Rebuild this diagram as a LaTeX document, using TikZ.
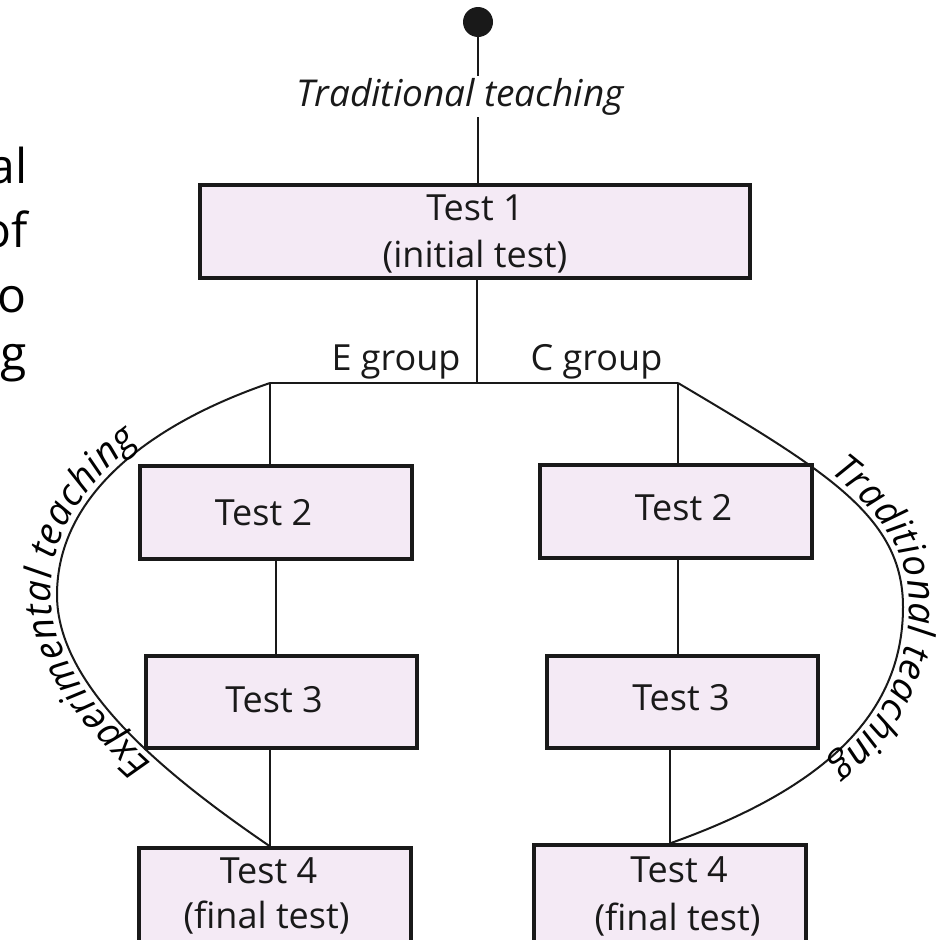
\documentclass[tikz,border=0pt]{standalone}
\usepackage{fontspec}
\setmainfont{Open Sans}
\usetikzlibrary{decorations.text}
\definecolor{boxfill}{RGB}{244,234,245}
\definecolor{ink}{RGB}{25,25,25}
\newcommand{\curvefont}{\fontsize{38}{46}\selectfont\itshape}
\begin{document}
\begin{tikzpicture}[x=1pt,y=-1pt,
  box/.style={draw=ink, line width=3.3pt, fill=boxfill, inner sep=0pt},
  conn/.style={draw=ink, line width=2pt},
  lbl/.style={font=\fontsize{36}{43}\selectfont, inner sep=0pt, text=ink, anchor=base},
  ital/.style={font=\fontsize{37}{44}\selectfont\itshape, inner sep=2pt, text=ink, anchor=base, fill=white},
  frag/.style={font=\fontsize{48}{58}\selectfont, inner sep=0pt, text=black, anchor=base east}]
\useasboundingbox (0,0) rectangle (943,940);
\clip (0,0) rectangle (943,940);

% fragments of neighbouring text
\node[frag] (fa) at (28,183) {al};
\node[frag] (fb) at (28,247) {of};
\node[frag] (fc) at (27,312) {o};
\node[frag] (fd) at (27,370) {g};

% start dot
\node[circle, fill=ink, minimum size=30pt, inner sep=0pt] (dot) at (478,22) {};

% boxes
\node[box, minimum width=550pt, minimum height=93pt] (t1) at (475,231.5) {};
\node[box, minimum width=272pt, minimum height=93pt] (t2l) at (276,512.5) {};
\node[box, minimum width=272pt, minimum height=93pt] (t2r) at (676,511.5) {};
\node[box, minimum width=271pt, minimum height=92pt] (t3l) at (281.5,702) {};
\node[box, minimum width=271pt, minimum height=92pt] (t3r) at (682.5,702) {};
\node[box, minimum width=272pt, minimum height=100pt] (t4l) at (275,898) {};
\node[box, minimum width=272pt, minimum height=100pt] (t4r) at (670,895) {};

% junctions
\coordinate (jl) at (270,383);
\coordinate (jm) at (477,383);
\coordinate (jr) at (678,383);

% connectors
\draw[conn] (dot) -- (dot |- t1.north);
\draw[conn] (t1.south -| jm) -- (jm);
\draw[conn] (jl) -- (jr);
\draw[conn] (jl) -- (jl |- t2l.north);
\draw[conn] (jr) -- (jr |- t2r.north);
\draw[conn] (t2l.south) -- (t2l.south |- t3l.north);
\draw[conn] (t2r.south -| jr) -- (jr |- t3r.north);
\draw[conn] (t3l.south -| jl) -- (t4l.north -| jl);
\draw[conn] (t3r.south -| t4r.north) -- (t4r.north);

% curved branches with text
\draw[conn, postaction={decorate, decoration={text along path, text align=center, raise=6pt,
   text={|\curvefont|Experimental teaching}}}]
  (t4l.north -| jl) .. controls (161,772) and (57,685) .. (57,595)
  .. controls (57,495) and (150,424) .. (jl);
\draw[conn, postaction={decorate, decoration={text along path, text align=center, raise=6pt,
   text={|\curvefont|Traditional teaching}}}]
  (jr) .. controls (828,472) and (903,517) .. (903,607)
  .. controls (903,717) and (820,790) .. (t4r.north);

% labels
\node[ital] (tt) at (460,106) {Traditional teaching};
\node[lbl] (eg) at (396,370) {E group};
\node[lbl] (cg) at (596.5,370) {C group};

\node[lbl] (t1a) at (475,220) {Test 1};
\node[lbl] (t1b) at (475,267) {(initial test)};
\node[lbl] (t2la) at (263.5,525) {Test 2};
\node[lbl] (t2ra) at (683.5,520) {Test 2};
\node[lbl] (t3la) at (274,712) {Test 3};
\node[lbl] (t3ra) at (681,710) {Test 3};
\node[lbl] (t4la) at (268.5,883) {Test 4};
\node[lbl] (t4lb) at (266.5,928) {(final test)};
\node[lbl] (t4ra) at (679,882) {Test 4};
\node[lbl] (t4rb) at (677.5,930) {(final test)};
\end{tikzpicture}
\end{document}
